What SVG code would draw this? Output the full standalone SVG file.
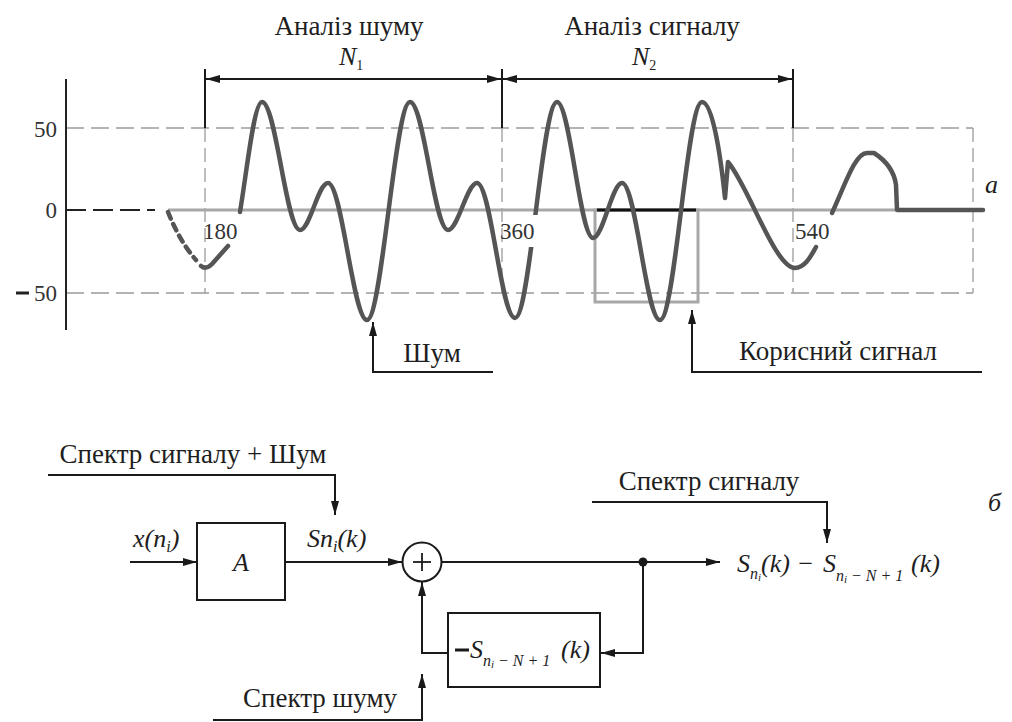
<svg xmlns="http://www.w3.org/2000/svg" width="1012" height="722" viewBox="0 0 1012 722">
<defs>
<marker id="ah" viewBox="0 0 14 8" refX="14" refY="4" markerWidth="14" markerHeight="8" markerUnits="userSpaceOnUse" orient="auto-start-reverse">
<path d="M0,0 L14,4 L0,8 Z" fill="#1a1a1a"/>
</marker>
</defs>
<style>
text{fill:#1e1e1e}
.lbl{font-size:27px}
.num{font-size:23px;fill:#333}
.math{font-size:26px;font-style:italic}
.sub{font-size:16px;font-style:italic}
.grid{stroke:#9a9a9a;stroke-width:1.5;stroke-dasharray:18 7;fill:none}
.vgrid{stroke:#9a9a9a;stroke-width:1.3;stroke-dasharray:14 6;fill:none}
.ln{stroke:#1a1a1a;stroke-width:2;fill:none}
.arr{stroke:#1a1a1a;stroke-width:2;fill:none;marker-end:url(#ah)}
.wave{stroke:#555;stroke-width:4.5;fill:none;stroke-linejoin:round;stroke-linecap:round}
.box{stroke:#1a1a1a;stroke-width:2;fill:#fff}
</style>
<rect width="1012" height="722" fill="#fff"/>

<g id="chart">
<line class="grid" x1="66" y1="128" x2="973" y2="128"/>
<line class="grid" x1="66" y1="293" x2="973" y2="293"/>
<line class="vgrid" x1="205" y1="128" x2="205" y2="293"/>
<line class="vgrid" x1="502" y1="128" x2="502" y2="293"/>
<line class="vgrid" x1="793" y1="128" x2="793" y2="293"/>
<line class="vgrid" x1="973" y1="128" x2="973" y2="293"/>
<line x1="66" y1="210" x2="155" y2="210" stroke="#222" stroke-width="2" stroke-dasharray="20 7"/>
<line x1="168" y1="210" x2="973" y2="210" stroke="#a8a8a8" stroke-width="3"/>
<rect x="595" y="210" width="103" height="92" fill="none" stroke="#a8a8a8" stroke-width="3"/>
<line x1="597" y1="210" x2="696" y2="210" stroke="#111" stroke-width="3"/>
<line x1="66" y1="79" x2="66" y2="330" stroke="#222" stroke-width="2"/>
<text class="num" font-family="'Liberation Serif', serif" x="57" y="137" text-anchor="end">50</text>
<text class="num" font-family="'Liberation Serif', serif" x="57" y="218" text-anchor="end">0</text>
<text class="num" font-family="'Liberation Serif', serif" x="57" y="301" text-anchor="end">50</text>
<line x1="16" y1="293" x2="29" y2="293" stroke="#222" stroke-width="3"/>
<path class="wave" d="M168,212 Q180,242 196,260" stroke-dasharray="7 6"/>
<path class="wave" d="M201,266 Q206,270 212,264 L228,246"/>
<path class="wave" d="M240,212 C247,170 254,102 262,102 C276,102 286,230 300,230 C310,230 318,183 328,183 C342,183 353,320 367,320 C382,320 395,102 410,102 C424,102 434,230 448,230 C458,230 467,183 477,183 C491,183 501,318 515,318 C530,318 542,102 557,102 C570,102 580,238 593,238 C603,238 612,183 622,183 C636,183 646,320 660,320 C675,320 687,102 702,102 C712,102 720,150 725,198 L728,162 C748,185 775,268 795,268 C805,268 811,256 816,247"/>
<path class="wave" d="M832,213 C845,185 855,153 867,153 L874,153 C885,160 894,170 896,185 L897,210 L983,210"/>
<rect x="518" y="215" width="22" height="32" fill="#fff"/>
<text class="num" font-family="'Liberation Serif', serif" x="203" y="239">180</text>
<text class="num" font-family="'Liberation Serif', serif" x="500" y="239">360</text>
<text class="num" font-family="'Liberation Serif', serif" x="795" y="239">540</text>
<text class="math" font-family="'Liberation Serif', serif" x="985" y="193" font-size="24">a</text>
</g>

<g id="dimension-n1">
<line class="ln" x1="205" y1="69" x2="205" y2="128"/>
<line class="ln" x1="502" y1="69" x2="502" y2="128"/>
<line class="ln" x1="793" y1="69" x2="793" y2="128"/>
<line class="ln" x1="206" y1="79" x2="501" y2="79" marker-start="url(#ah)" marker-end="url(#ah)"/>
<text class="lbl" font-family="'Liberation Serif', serif" x="349" y="35" text-anchor="middle">Аналіз шуму</text>
<text class="math" font-family="'Liberation Serif', serif" x="339" y="65" font-size="22">N<tspan font-size="14" font-style="normal" dy="5">1</tspan></text>
</g>
<g id="dimension-n2">
<line class="ln" x1="503" y1="79" x2="792" y2="79" marker-start="url(#ah)" marker-end="url(#ah)"/>
<text class="lbl" font-family="'Liberation Serif', serif" x="652" y="35" text-anchor="middle">Аналіз сигналу</text>
<text class="math" font-family="'Liberation Serif', serif" x="632" y="65" font-size="22">N<tspan font-size="14" font-style="normal" dy="5">2</tspan></text>
</g>

<g id="callout-noise">
<polyline class="arr" points="493,372 373,372 373,322"/>
<text class="lbl" font-family="'Liberation Serif', serif" x="432" y="362" text-anchor="middle">Шум</text>
</g>
<g id="callout-signal">
<polyline class="arr" points="982,372 692,372 692,310"/>
<text class="lbl" font-family="'Liberation Serif', serif" x="838" y="360" text-anchor="middle">Корисний сигнал</text>
</g>

<g id="connectors">
<polyline class="arr" points="48,475 335,475 335,515"/>
<line class="arr" x1="130" y1="562" x2="197" y2="562"/>
<line class="arr" x1="285" y1="562" x2="402" y2="562"/>
<line class="arr" x1="441" y1="562" x2="720" y2="562"/>
<polyline class="arr" points="643,562 643,653 601,653"/>
<polyline class="arr" points="448,653 422,653 422,582"/>
<polyline class="arr" points="213,720 422,720 422,674"/>
<polyline class="arr" points="592,502 827,502 827,543"/>
<circle cx="643" cy="562" r="4.5" fill="#1a1a1a"/>
</g>

<g id="label-input">
<text class="lbl" font-family="'Liberation Serif', serif" x="193" y="463" text-anchor="middle">Спектр сигналу + Шум</text>
<text class="math" font-family="'Liberation Serif', serif" x="133" y="547">x(n<tspan class="sub" dy="5">i</tspan><tspan dy="-5">)</tspan></text>
</g>

<g id="block-a">
<rect class="box" x="197" y="523" width="88" height="77"/>
<text class="math" font-family="'Liberation Serif', serif" x="241" y="571" text-anchor="middle" font-size="24">A</text>
</g>

<g id="label-sn">
<text class="math" font-family="'Liberation Serif', serif" x="307" y="547">Sn<tspan class="sub" dy="5">i</tspan><tspan dy="-5">(k)</tspan></text>
</g>

<g id="sum">
<circle cx="422" cy="562" r="19.5" fill="#fff" stroke="#1a1a1a" stroke-width="2"/>
<line x1="422" y1="553" x2="422" y2="571" stroke="#1a1a1a" stroke-width="1.8"/>
<line x1="413" y1="562" x2="431" y2="562" stroke="#1a1a1a" stroke-width="1.8"/>
</g>

<g id="block-delay">
<rect class="box" x="448" y="613" width="152" height="74"/>
<line x1="455" y1="650" x2="469" y2="650" stroke="#1a1a1a" stroke-width="3"/>
<text class="math" font-family="'Liberation Serif', serif" x="470" y="658">S<tspan class="sub" dy="8">n</tspan><tspan font-size="11" dy="2">i</tspan><tspan class="sub" dy="-2"> − N + 1</tspan><tspan x="561" dy="-8">(k)</tspan></text>
</g>

<g id="label-output">
<text class="lbl" font-family="'Liberation Serif', serif" x="709" y="490" text-anchor="middle">Спектр сигналу</text>
<text class="math" font-family="'Liberation Serif', serif" x="737" y="572">S<tspan class="sub" dy="7">n</tspan><tspan font-size="11" dy="2">i</tspan><tspan dy="-9">(k) −</tspan><tspan x="823">S</tspan><tspan class="sub" dy="9">n</tspan><tspan font-size="11" dy="2">i</tspan><tspan class="sub" dy="-2"> − N + 1</tspan><tspan x="911" dy="-9">(k)</tspan></text>
<text class="math" font-family="'Liberation Serif', serif" x="988" y="511" font-size="24">б</text>
</g>

<g id="label-noise-spectrum">
<text class="lbl" font-family="'Liberation Serif', serif" x="320" y="707" text-anchor="middle">Спектр шуму</text>
</g>
</svg>
